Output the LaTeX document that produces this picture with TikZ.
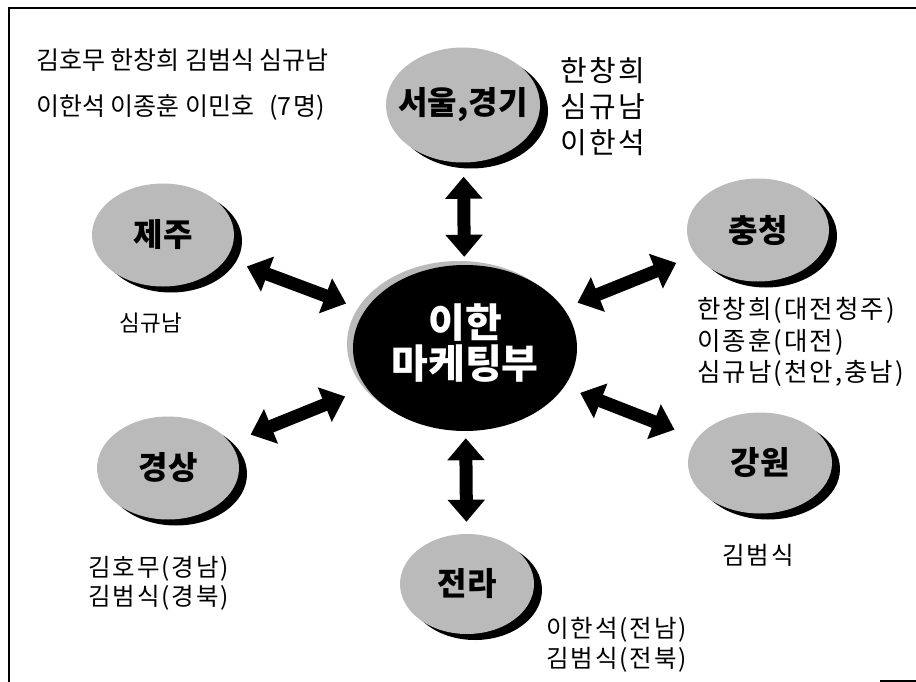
\documentclass[tikz,border=0pt]{standalone}
\usepackage{fontspec}
\setmainfont{Noto Sans CJK KR}
\newfontfamily\krwide[LetterSpace=8]{Noto Sans CJK KR}
\usetikzlibrary{shapes.geometric}
\usetikzlibrary{shadows}
\usetikzlibrary{arrows.meta}

\tikzset{
  region/.style={ellipse, fill=black!27, minimum width=142pt, minimum height=103pt, inner sep=0pt,
    drop shadow={shadow xshift=8pt, shadow yshift=-6pt, fill=black, opacity=1}},
  rname/.style={font=\fontsize{32}{32}\selectfont\bfseries, text=black},
  hubtext/.style={text=white, align=center, yshift=5pt, font=\fontsize{40}{41}\selectfont\bfseries},
  people/.style={align=left, inner sep=0pt, font=\krwide\fontsize{24.5}{30}\selectfont},
  link/.style={{Triangle[width=36pt,length=22pt]}-{Triangle[width=36pt,length=22pt]}, line width=13pt},
}

\begin{document}
\begin{tikzpicture}[x=1pt,y=-1pt]
\useasboundingbox (0,0) rectangle (916,682);
\draw[line width=2pt] (9,682) -- (9,8) -- (916,8);
\draw[line width=2pt] (880,681) -- (916,681);

\node[ellipse, fill=black, minimum width=224pt, minimum height=166pt, inner sep=0pt,
  drop shadow={shadow xshift=-6pt, shadow yshift=4pt, fill=black!27, opacity=1},
  label={[hubtext]center:이한\\마케팅부}] (hub) at (465,348) {};

\node[region, minimum width=154pt, minimum height=115pt, label={[rname]center:{서울,경기}}] (seoul) at (463,105) {};
\node[region, label={[rname]center:제주}] (jeju) at (163,235) {};
\node[region, label={[rname]center:충청}] (chung) at (758,230) {};
\node[region, minimum width=144pt, minimum height=101pt, label={[rname]center:강원}] (gang) at (760,463) {};
\node[region, minimum width=134pt, minimum height=100pt, label={[rname]center:전라}] (jeolla) at (467,584) {};
\node[region, label={[rname]center:경상}] (gyeong) at (168,468) {};

% arrows
\draw[link, shorten <=8pt, shorten >=14pt] (hub) -- (seoul);
\draw[link, shorten <=7pt, shorten >=12pt] (hub) -- (jeolla);
\draw[link, shorten <=20pt, shorten >=22pt] (hub) -- (jeju);
\draw[link, shorten <=15pt, shorten >=21pt] (hub) -- (chung);
\draw[link, shorten <=23pt, shorten >=22pt] (hub) -- (gyeong);
\draw[link, shorten <=17pt, shorten >=24pt] (hub) -- (gang);

% members
\node[align=left, inner sep=0pt, anchor=west, font=\fontsize{25}{46}\selectfont] (roster) at (36,85)
  {김호무 한창희 김범식 심규남\\이한석 이종훈 이민호\hspace{0.6em}({\krwide 7명})};
\node[people, anchor=west, font=\krwide\fontsize{29}{36}\selectfont] (seoulppl) at (560,107) {한창희\\심규남\\이한석};
\node[people, font=\fontsize{22.5}{22.5}\selectfont] (jejuppl) at (151,323) {심규남};
\node[people, anchor=west, font=\krwide\fontsize{25.5}{31.5}\selectfont] (chungppl) at (697,342)
  {한창희(대전청주)\\이종훈(대전)\\심규남(천안,충남)};
\node[people] (gangppl) at (758,555) {김범식};
\node[people, anchor=west] (jeollappl) at (546,645) {이한석(전남)\\김범식(전북)};
\node[people, anchor=west, font=\krwide\fontsize{24.5}{29}\selectfont] (gyeongppl) at (88,583) {김호무(경남)\\김범식(경북)};
\end{tikzpicture}
\end{document}
